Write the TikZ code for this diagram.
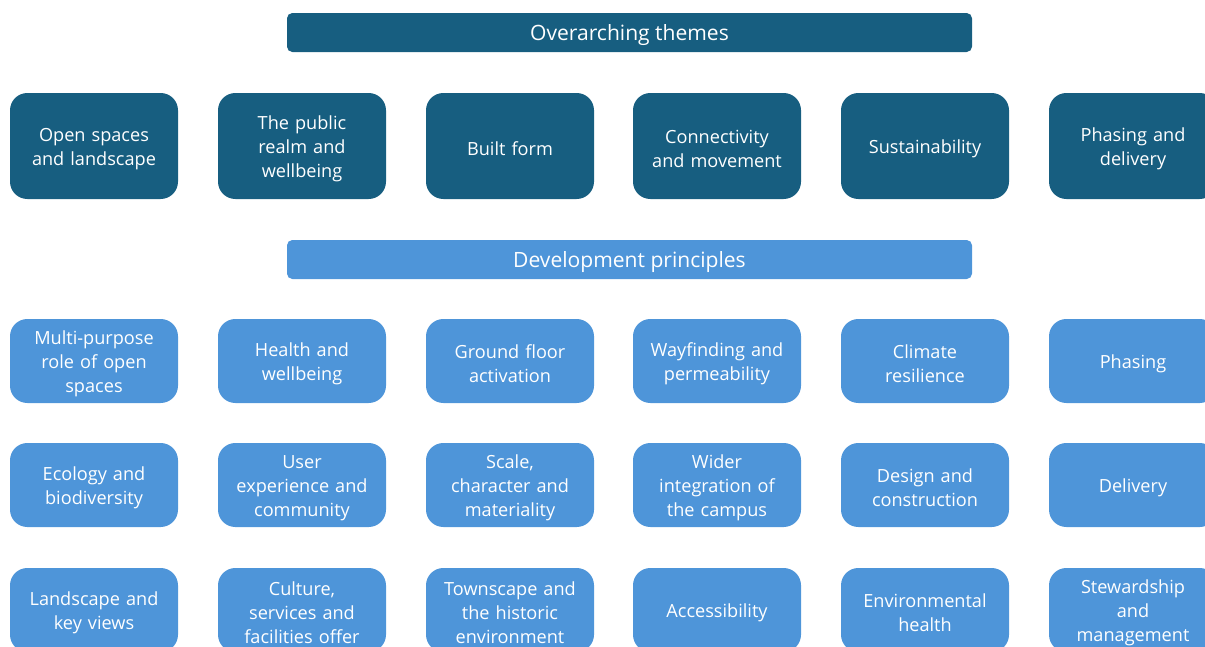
\documentclass[tikz,border=0pt]{standalone}
\usepackage{fontspec}
\setmainfont{Open Sans}
\usepackage{tikz}

\definecolor{themeblue}{RGB}{23,94,128}
\definecolor{princblue}{RGB}{78,149,217}

\begin{document}
\begin{tikzpicture}
                [
                x=0.75pt,y=-0.75pt,
                box/.style={rounded corners=13pt,inner sep=2pt,align=center,text=white,
                    text width=122pt,minimum width=126pt,font=\fontsize{13.6}{18}\selectfont,
                    execute at begin node={\rule{0pt}{14.5pt}}},
                theme/.style={box,fill=themeblue,minimum height=79.5pt},
                principle/.style={box,fill=princblue,minimum height=63pt},
                bar/.style={rounded corners=4pt,minimum width=513.75pt,minimum height=29.25pt,
                    text height=15pt,text depth=2.3pt,
                    text=white,font=\fontsize{15.8}{18}\selectfont}
                ]
            \clip (0,0) rectangle (1205,646);
            \useasboundingbox (0,0) rectangle (1205,646);
            \node[bar,fill=themeblue] (ot) at (629.5,32.5) {Overarching themes};
            \node[theme] (t1) at (94,146) {Open spaces\\and landscape};
            \node[theme] (t2) at (302,146) {The public\\realm and\\wellbeing};
            \node[theme] (t3) at (510,146) {Built form};
            \node[theme] (t4) at (717,146) {Connectivity\\and movement};
            \node[theme] (t5) at (925,146) {Sustainability};
            \node[theme] (t6) at (1133,146) {Phasing and\\delivery};
            \node[bar,fill=princblue] (dp) at (629.5,259.5) {Development principles};
            \node[principle] (p11) at (94,361) {Multi-purpose\\role of open\\spaces};
            \node[principle] (p21) at (302,361) {Health and\\wellbeing};
            \node[principle] (p31) at (510,361) {Ground floor\\activation};
            \node[principle] (p41) at (717,361) {Wayfinding and\\permeability};
            \node[principle] (p51) at (925,361) {Climate\\resilience};
            \node[principle] (p61) at (1133,361) {Phasing};
            \node[principle] (p12) at (94,485) {Ecology and\\biodiversity};
            \node[principle] (p22) at (302,485) {User\\experience and\\community};
            \node[principle] (p32) at (510,485) {Scale,\\character and\\materiality};
            \node[principle] (p42) at (717,485) {Wider\\integration of\\the campus};
            \node[principle] (p52) at (925,485) {Design and\\construction};
            \node[principle] (p62) at (1133,485) {Delivery};
            \node[principle] (p13) at (94,610) {Landscape and\\key views};
            \node[principle] (p23) at (302,610) {Culture,\\services and\\facilities offer};
            \node[principle] (p33) at (510,610) {Townscape and\\the historic\\environment};
            \node[principle] (p43) at (717,610) {Accessibility};
            \node[principle] (p53) at (925,610) {Environmental\\health};
            \node[principle] (p63) at (1133,610) {Stewardship\\and\\management};
            \end{tikzpicture}
\end{document}
